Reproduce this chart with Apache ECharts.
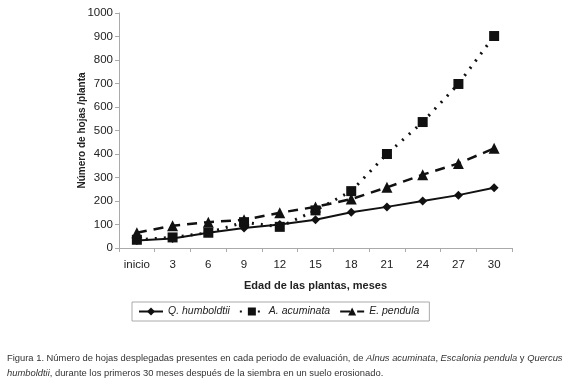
<!DOCTYPE html>
<html>
<head>
<meta charset="utf-8">
<script src="https://cdn.jsdelivr.net/npm/echarts@6/dist/echarts.min.js"></script>
<style>
  html, body { margin: 0; padding: 0; background: #fff; }
  #chart { width: 580px; height: 385px; }
</style>
</head>
<body>
<div id="chart"></div>
<script>
const categories = ['inicio', '3', '6', '9', '12', '15', '18', '21', '24', '27', '30'];
const humboldtii = [32, 40, 65, 85, 100, 120, 152, 175, 200, 225, 256];
const acuminata = [35, 45, 65, 110, 90, 160, 242, 400, 536, 698, 902];
const pendula = [65, 95, 110, 120, 150, 175, 208, 258, 312, 360, 424];
const yTicks = [0, 1000, 100];

const myChart = echarts.init(document.getElementById('chart'));
const font = '"Liberation Sans", Arial, sans-serif';

myChart.setOption({
    animation: false,
    textStyle: {fontFamily: font},
    grid: {left: 119, right: 68, top: 13, bottom: 137},
    legend: {
        data: ['Q. humboldtii', 'A. acuminata', 'E. pendula'],
        left: 132,
        top: 302,
        orient: 'horizontal',
        padding: [4, 10, 4, 6],
        itemGap: 9,
        itemWidth: 24,
        itemHeight: 10,
        borderColor: '#aaa',
        borderWidth: 1,
        borderRadius: 0,
        textStyle: {color: '#222', fontSize: 10.5, fontStyle: 'italic', fontFamily: font}
    },
    xAxis: {
        type: 'category',
        data: categories,
        name: 'Edad de las plantas, meses',
        nameLocation: 'middle',
        nameGap: 32,
        nameTextStyle: {fontWeight: 'bold', fontSize: 11, color: '#222'},
        axisLine: {lineStyle: {color: '#aaa'}},
        axisTick: {show: true, length: 4, lineStyle: {color: '#aaa'}},
        axisLabel: {fontSize: 11.5, color: '#222', margin: 11},
        splitLine: {show: false}
    },
    yAxis: {
        type: 'value',
        min: yTicks[0],
        max: yTicks[1],
        interval: yTicks[2],
        name: 'Número de hojas /planta',
        nameLocation: 'middle',
        nameGap: 32,
        nameMoveOverlap: false,
        nameRotate: 90,
        nameTextStyle: {fontWeight: 'bold', fontSize: 10, color: '#222'},
        axisLine: {show: true, lineStyle: {color: '#aaa'}},
        axisTick: {show: true, length: 4, lineStyle: {color: '#aaa'}},
        axisLabel: {fontSize: 11.5, color: '#222', margin: 6, formatter: v => String(v)},
        splitLine: {show: false}
    },
    series: [
        {
            name: 'Q. humboldtii',
            type: 'line',
            data: humboldtii,
            symbol: 'diamond',
            symbolSize: 9,
            itemStyle: {color: '#111'},
            lineStyle: {color: '#111', width: 2, type: 'solid'}
        },
        {
            name: 'A. acuminata',
            type: 'line',
            data: acuminata,
            symbol: 'rect',
            symbolSize: 10,
            itemStyle: {color: '#111'},
            lineStyle: {color: '#111', width: 3, type: [2, 7]}
        },
        {
            name: 'E. pendula',
            type: 'line',
            data: pendula,
            symbol: 'triangle',
            symbolSize: 11,
            itemStyle: {color: '#111'},
            lineStyle: {color: '#111', width: 2.5, type: [10, 7]}
        }
    ],
    graphic: [
        {
            type: 'text',
            left: 7,
            top: 351,
            style: {
                text: 'Figura 1. Número de hojas desplegadas presentes en cada periodo de evaluación, de {i|Alnus acuminata}, {i|Escalonia pendula} y {i|Quercus}\n{i|humboldtii}, durante los primeros 30 meses después de la siembra en un suelo erosionado.',
                font: '9.4px ' + font,
                fill: '#333',
                lineHeight: 15,
                rich: {
                    i: {fontStyle: 'italic', fontSize: 9.4, fontFamily: font, fill: '#333', lineHeight: 15}
                }
            }
        }
    ]
});
</script>
</body>
</html>
